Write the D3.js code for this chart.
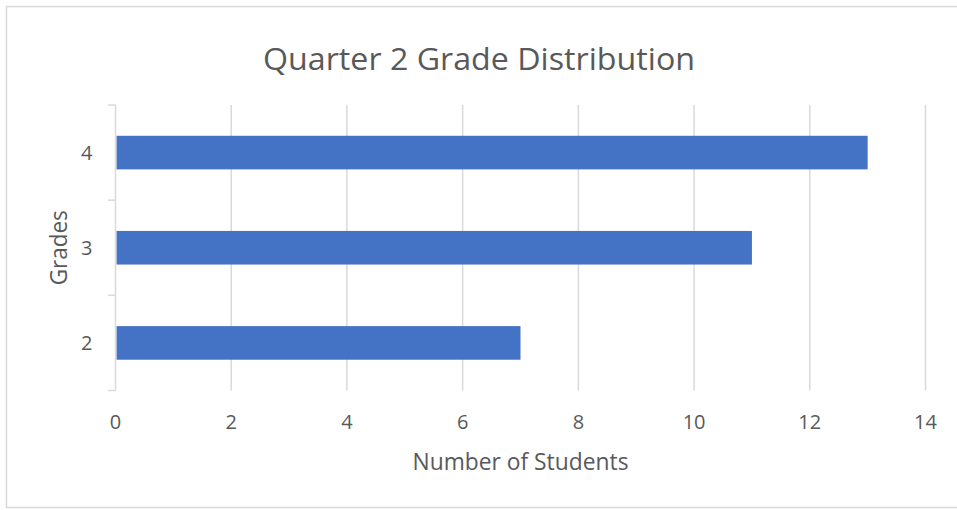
<!DOCTYPE html>
<html>
<head>
<meta charset="utf-8">
<script src="https://cdn.jsdelivr.net/npm/d3@7"></script>
<style>
    body { margin: 0; background: #fff; }
    svg { display: block; font-family: "Open Sans", "Noto Sans", sans-serif; }
</style>
</head>
<body>
<svg id="svg"></svg>
<script>
// chart values
const grades = ["2", "3", "4"];
const students = [7, 11, 13];
const xTicks = [0, 2, 4, 6, 8, 10, 12, 14];

const width = 957;
const height = 510;
const textColor = "#595959";
const lineColor = "#d9d9d9";
const barColor = "#4472c4";

let svg = d3.select("#svg")
    .attr("width", width)
    .attr("height", height);

// plot area bounds
const plot = { left: 115.5, right: 925.5, top: 105, bottom: 390.5 };

let xScale = d3.scaleLinear()
    .domain([0, 14])
    .range([plot.left, plot.right]);

// 4 on top, 2 at bottom
let yScale = d3.scaleBand()
    .domain(grades.slice().reverse())
    .range([plot.top, plot.bottom])
    .paddingInner(0.647)
    .paddingOuter(0.3235);

let data = grades.map((g, i) => ({ grade: g, count: students[i] }));

// outer chart border
svg.append("rect")
    .attr("x", 6.5)
    .attr("y", 6.5)
    .attr("width", width)
    .attr("height", 501)
    .attr("fill", "#fff")
    .attr("stroke", lineColor)
    .attr("stroke-width", 1.5);

// vertical gridlines
svg.append("g")
    .selectAll("line")
    .data(xTicks.slice(1))
    .enter().append("line")
    .attr("x1", d => xScale(d))
    .attr("x2", d => xScale(d))
    .attr("y1", plot.top)
    .attr("y2", plot.bottom)
    .attr("stroke", lineColor)
    .attr("stroke-width", 1.5);

// bars
svg.append("g")
    .selectAll(".bar")
    .data(data)
    .enter().append("rect")
    .attr("class", "bar")
    .attr("x", xScale(0) + 1)
    .attr("y", d => yScale(d.grade))
    .attr("width", d => xScale(d.count) - xScale(0) - 1)
    .attr("height", yScale.bandwidth())
    .attr("fill", barColor);

// y axis line with ticks on category boundaries
let yAxis = svg.append("g");
yAxis.append("line")
    .attr("x1", plot.left).attr("x2", plot.left)
    .attr("y1", plot.top).attr("y2", plot.bottom)
    .attr("stroke", lineColor)
    .attr("stroke-width", 1.5);

let step = yScale.step();
yAxis.selectAll(".ytick")
    .data(d3.range(grades.length + 1))
    .enter().append("line")
    .attr("class", "ytick")
    .attr("x1", plot.left - 7.5)
    .attr("x2", plot.left)
    .attr("y1", i => plot.top + i * step)
    .attr("y2", i => plot.top + i * step)
    .attr("stroke", lineColor)
    .attr("stroke-width", 1.5);

yAxis.selectAll(".ylabel")
    .data(grades)
    .enter().append("text")
    .attr("class", "ylabel")
    .attr("x", 92.5)
    .attr("y", d => yScale(d) + yScale.bandwidth() / 2 + 7)
    .attr("text-anchor", "end")
    .style("font-size", "20px")
    .style("fill", textColor)
    .text(d => d);

// x tick labels
svg.append("g")
    .selectAll("text")
    .data(xTicks)
    .enter().append("text")
    .attr("x", d => xScale(d))
    .attr("y", 428.5)
    .attr("text-anchor", "middle")
    .style("font-size", "20px")
    .style("fill", textColor)
    .text(d => d);

// title
svg.append("text")
    .attr("x", 479)
    .attr("y", 69.5)
    .attr("text-anchor", "middle")
    .attr("textLength", 432)
    .attr("lengthAdjust", "spacingAndGlyphs")
    .style("font-size", "31px")
    .style("fill", textColor)
    .text("Quarter 2 Grade Distribution");

// axis titles
svg.append("text")
    .attr("x", (plot.left + plot.right) / 2)
    .attr("y", 469.5)
    .attr("text-anchor", "middle")
    .attr("textLength", 216)
    .attr("lengthAdjust", "spacingAndGlyphs")
    .style("font-size", "24.5px")
    .style("fill", textColor)
    .text("Number of Students");

svg.append("text")
    .attr("transform", `translate(66.5,${(plot.top + plot.bottom) / 2}) rotate(-90)`)
    .attr("text-anchor", "middle")
    .attr("textLength", 75)
    .attr("lengthAdjust", "spacingAndGlyphs")
    .style("font-size", "24.5px")
    .style("fill", textColor)
    .text("Grades");
</script>
</body>
</html>
